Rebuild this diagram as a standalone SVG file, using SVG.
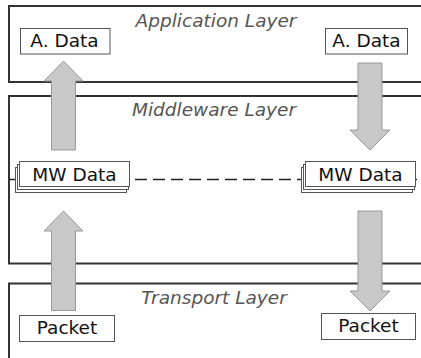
<svg xmlns="http://www.w3.org/2000/svg" width="421" height="358" viewBox="0 0 421 358">
<style>
.layer{fill:#fff;stroke:#333;stroke-width:2}
.title{font-family:"DejaVu Sans",Verdana,sans-serif;font-size:18.5px;font-style:italic;fill:#555;text-anchor:middle}
.box{fill:#fff;stroke:#555;stroke-width:1}
.lbl{font-family:"DejaVu Sans",Verdana,sans-serif;font-size:18.5px;fill:#111;text-anchor:middle}
.arrow{fill:#c8c8c8;stroke:#999;stroke-width:1}
.dash{stroke:#222;stroke-width:1.5;stroke-dasharray:12 6;fill:none}
</style>
<g id="application-layer">
<rect class="layer" x="9" y="6" width="430" height="76"/>
<text class="title" x="216" y="27">Application Layer</text>
</g>
<g id="middleware-layer">
<rect class="layer" x="9" y="96" width="430" height="167.5"/>
<text class="title" x="214" y="116">Middleware Layer</text>
</g>
<g id="transport-layer">
<rect class="layer" x="9" y="283.5" width="430" height="100"/>
<text class="title" x="214" y="304">Transport Layer</text>
</g>
<g id="connectors">
<line class="dash" x1="9" y1="179.5" x2="421" y2="179.5"/>
<polygon class="arrow" points="51.5,150 51.5,81 44,81 63.5,61 83,81 75.5,81 75.5,150"/>
<polygon class="arrow" points="51.5,310.5 51.5,231 44,231 63.5,211 83,231 75.5,231 75.5,310.5"/>
<polygon class="arrow" points="358,63 382,63 382,130 390,130 370,150 350,130 358,130"/>
<polygon class="arrow" points="358,211 382,211 382,291 390,291 370,311 350,291 358,291"/>
</g>
<g id="a-data-left">
<rect class="box" x="20.5" y="28.5" width="89.5" height="25.5"/>
<text class="lbl" x="64.5" y="47">A. Data</text>
</g>
<g id="a-data-right">
<rect class="box" x="325.5" y="28.5" width="82" height="25.5"/>
<text class="lbl" x="366.5" y="47">A. Data</text>
</g>
<g id="mw-data-left">
<rect class="box" x="15.5" y="167.5" width="111" height="25"/>
<rect class="box" x="17.5" y="164.5" width="111" height="25"/>
<rect class="box" x="19.5" y="161.5" width="110" height="25"/>
<text class="lbl" x="74.5" y="181">MW Data</text>
</g>
<g id="mw-data-right">
<rect class="box" x="301.5" y="167.5" width="111" height="25"/>
<rect class="box" x="303.5" y="164.5" width="111" height="25"/>
<rect class="box" x="305.5" y="161.5" width="110" height="25"/>
<text class="lbl" x="360.5" y="181">MW Data</text>
</g>
<g id="packet-left">
<rect class="box" x="19.5" y="315.5" width="95" height="26"/>
<text class="lbl" x="67" y="333.5">Packet</text>
</g>
<g id="packet-right">
<rect class="box" x="321.5" y="313.5" width="94" height="26"/>
<text class="lbl" x="368.5" y="331.5">Packet</text>
</g>
</svg>
